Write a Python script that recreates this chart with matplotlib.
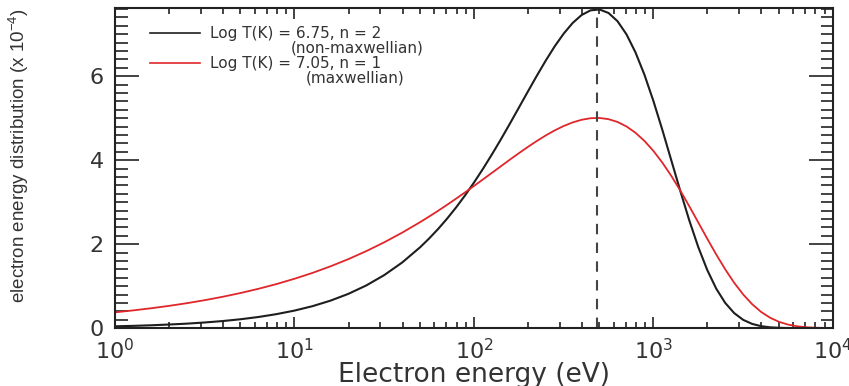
import numpy as np
import matplotlib
matplotlib.use("Agg")
import matplotlib.pyplot as plt
from matplotlib.ticker import LogLocator, MultipleLocator, LogFormatterMathtext

plt.rcParams['font.family'] = ['DejaVu Sans']
plt.rcParams['mathtext.default'] = 'regular'

# electron energy grid (eV) (finer near the peaks)
energy = [1.0, 1.259, 1.585, 1.995, 2.512, 3.162, 3.981, 5.012, 6.310, 7.943,
          10.0, 12.59, 15.85, 19.95, 25.12, 31.62, 39.81,
          50.12, 56.23, 63.10, 70.79, 79.43, 89.13, 100.0, 112.2, 125.9, 141.3,
          158.5, 177.8, 199.5, 223.9, 251.2, 281.8, 316.2, 354.8, 398.1, 446.7,
          501.2, 562.3, 631.0, 707.9, 794.3, 891.3, 1000.0, 1122.0, 1259.0, 1413.0,
          1585.0, 1778.0, 1995.0, 2239.0, 2512.0, 2818.0, 3162.0, 3548.0, 3981.0, 4467.0,
          5012.0, 5623.0, 6310.0, 7079.0, 7943.0, 8913.0, 10000.0]

# Log T = 6.75, n = 2 (non-maxwellian), units of 1e-4
dist_nonmax = [0.043, 0.053, 0.067, 0.085, 0.106, 0.134, 0.168, 0.211, 0.265, 0.333,
               0.417, 0.522, 0.653, 0.815, 1.016, 1.262, 1.562,
               1.925, 2.133, 2.359, 2.605, 2.871, 3.158, 3.465, 3.791, 4.135, 4.495,
               4.867, 5.247, 5.629, 6.007, 6.370, 6.710, 7.012, 7.266, 7.456, 7.567,
               7.587, 7.504, 7.308, 6.995, 6.567, 6.033, 5.408, 4.717, 3.990, 3.261,
               2.563, 1.930, 1.384, 0.939, 0.600, 0.358, 0.197, 0.100, 0.046, 0.019,
               0.007, 0.002, 0.001, 0.0, 0.0, 0.0, 0.0]

# Log T = 7.05, n = 1 (maxwellian), units of 1e-4
dist_max = [0.375, 0.421, 0.472, 0.529, 0.593, 0.665, 0.746, 0.836, 0.937, 1.049,
            1.175, 1.314, 1.470, 1.642, 1.833, 2.043, 2.273,
            2.523, 2.656, 2.793, 2.935, 3.081, 3.231, 3.385, 3.540, 3.697, 3.854,
            4.011, 4.164, 4.313, 4.455, 4.588, 4.708, 4.812, 4.898, 4.961, 4.998,
            5.004, 4.975, 4.909, 4.802, 4.652, 4.457, 4.219, 3.939, 3.622, 3.273,
            2.901, 2.516, 2.129, 1.753, 1.400, 1.080, 0.802, 0.570, 0.386, 0.247,
            0.149, 0.084, 0.044, 0.021, 0.009, 0.004, 0.001]

peak_energy = 484.0

labels_main = ["Log T(K) = 6.75, n = 2", "Log T(K) = 7.05, n = 1"]
labels_sub = ["(non-maxwellian)", "(maxwellian)"]

fig = plt.figure(figsize=(8.49, 3.86), dpi=100)
ax = fig.add_axes([0.1355, 0.150, 0.8455, 0.829])

ax.plot(energy, dist_nonmax, color='#1e1e1e', lw=1.5)
ax.plot(energy, dist_max, color='#e0262a', lw=1.3)
ax.axvline(peak_energy, color='#444444', lw=1.5, dashes=(5, 4))

ax.set_xscale('log')
ax.set_xlim(1, 1e4)
ax.set_ylim(0, 7.62)

ax.xaxis.set_major_locator(LogLocator(base=10, numticks=10))
ax.xaxis.set_minor_locator(LogLocator(base=10, subs=np.arange(2, 10), numticks=40))
ax.xaxis.set_major_formatter(LogFormatterMathtext())
ax.yaxis.set_major_locator(MultipleLocator(2))
ax.yaxis.set_minor_locator(MultipleLocator(0.2))

ax.tick_params(axis='both', which='both', direction='in', top=True, right=True,
               colors='#222222', labelcolor='#333333', width=1.2)
ax.tick_params(axis='x', which='major', length=8, labelsize=16, pad=7)
ax.tick_params(axis='x', which='minor', length=4)
ax.tick_params(axis='y', which='major', length=17, labelsize=16, pad=8)
ax.tick_params(axis='y', which='minor', length=9)
for s in ax.spines.values():
    s.set_linewidth(1.5)
    s.set_color('#222222')

ax.set_xlabel("Electron energy (eV)", fontsize=19, color='#333333', labelpad=-1)
ax.set_ylabel(r"electron energy distribution (x 10$^{-4}$)",
              family=['Liberation Sans Narrow', 'Liberation Sans'], fontsize=13.5,
              color='#333333')
ax.yaxis.set_label_coords(-0.117, 0.54)

# legend drawn by hand to match the layout
leg_colors = ['#1e1e1e', '#e0262a']
leg_y = [0.922, 0.828]
sub_x = [0.245, 0.265]
for i in range(2):
    ax.plot([0.049, 0.118], [leg_y[i], leg_y[i]], transform=ax.transAxes,
            color=leg_colors[i], lw=1.2)
    ax.text(0.132, leg_y[i], labels_main[i], transform=ax.transAxes,
            fontsize=11, va='center', ha='left', color='#333333')
    ax.text(sub_x[i], leg_y[i] - 0.047, labels_sub[i], transform=ax.transAxes,
            fontsize=11, va='center', ha='left', color='#333333')

fig.savefig("out.png", dpi=100)
